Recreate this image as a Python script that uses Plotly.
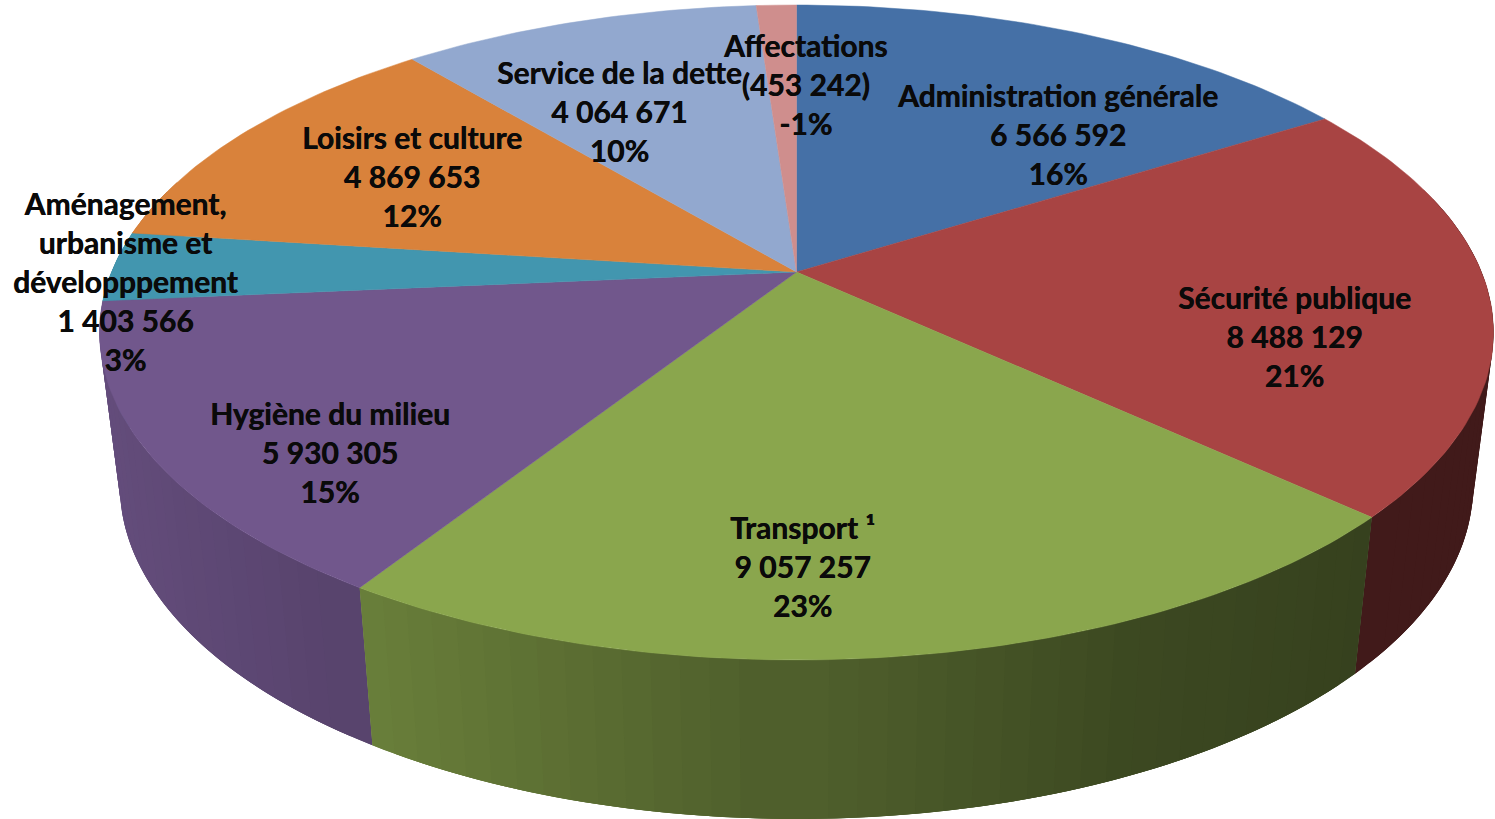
import numpy as np
import plotly.graph_objects as go

categories = ["Administration générale", "Sécurité publique", "Transport ¹",
              "Hygiène du milieu", "Aménagement,<br>urbanisme et<br>développpement",
              "Loisirs et culture", "Service de la dette", "Affectations"]
values = [6566592, 8488129, 9057257, 5930305, 1403566, 4869653, 4064671, -453242]
percents = ["16%", "21%", "23%", "15%", "3%", "12%", "10%", "-1%"]
colors = ["#4570A6", "#A84443", "#8AA64D", "#71578C", "#4296AF", "#D9823B", "#92A8CF", "#CF8E8D"]

label_x = [1057, 1294, 802, 330, 125, 412, 619, 805]
label_y = [134, 336, 566, 452, 281, 176, 111, 84]

# Projection of the tilted disc (picture pixels)
TOP = dict(cx=796.5, cy=272, a=685, b=316.3, k=0.1847)
BOT = dict(cx=796.5, cy=424, a=665, b=322, k=0.1847)
# wall shading as a function of horizontal position
SHADE_X = [100, 360, 800, 1100, 1370, 1500]
SHADE_F = [0.89, 0.78, 0.57, 0.44, 0.39, 0.39]


def project(theta, p):
    X, Y = np.sin(theta), -np.cos(theta)
    w = 1 - p["k"] * Y
    return p["cx"] + p["a"] * X / w, p["cy"] + p["b"] * Y / w


def rgb(h):
    return [int(h[i:i + 2], 16) for i in (1, 3, 5)]


mags = np.abs(values)
edges = np.concatenate([[0], np.cumsum(mags)]) / mags.sum() * 2 * np.pi

fig = go.Figure()
wall = []
for i in range(len(values)):
    lo, hi = edges[i], edges[i + 1]
    n = max(2, int(np.degrees(hi - lo) / 2))
    ts = np.linspace(lo, hi, n + 1)
    step = ts[1] - ts[0]
    for t0, t1 in zip(ts[:-1], ts[1:]):
        mid = (t0 + t1) / 2
        if -np.cos(mid) > -0.25:
            # overlap neighbours inside the same slice so no seams show
            wall.append((-np.cos(mid), max(lo, t0 - step), min(hi, t1 + step), mid, i))

for _, t0, t1, mid, i in sorted(wall, key=lambda q: q[0]):
    tt = np.linspace(t0, t1, 5)
    xa, ya = project(tt, TOP)
    xb, yb = project(tt[::-1], BOT)
    xs = np.concatenate([xa, xb, xa[:1]])
    ys = np.concatenate([ya, yb, ya[:1]])
    f = np.interp((project(mid, TOP)[0] + project(mid, BOT)[0]) / 2, SHADE_X, SHADE_F)
    c = "rgb(%d,%d,%d)" % tuple(int(v * f) for v in rgb(colors[i]))
    fig.add_trace(go.Scatter(x=xs, y=ys, mode="lines", fill="toself", fillcolor=c,
                             line=dict(width=0), hoverinfo="skip", showlegend=False))

for i in range(len(values)):
    ts = np.linspace(edges[i], edges[i + 1], max(3, int(np.degrees(edges[i + 1] - edges[i]))))
    xs, ys = project(ts, TOP)
    xs = np.concatenate([[TOP["cx"]], xs, [TOP["cx"]]])
    ys = np.concatenate([[TOP["cy"]], ys, [TOP["cy"]]])
    fig.add_trace(go.Scatter(x=xs, y=ys, mode="lines", fill="toself", fillcolor=colors[i],
                             line=dict(color=colors[i], width=0.5), name=categories[i],
                             hoverinfo="name", showlegend=False))

for i, cat in enumerate(categories):
    v = f"{abs(values[i]):,}".replace(",", " ")
    if values[i] < 0:
        v = f"({v})"
    fig.add_annotation(x=label_x[i], y=label_y[i], text=f"{cat}<br>{v}<br>{percents[i]}",
                       showarrow=False, xanchor="center", yanchor="middle", align="center",
                       font=dict(family="Lato", size=30, color="#0A0A0A", weight=700,
                                 shadow="0.4px 0 0 #0A0A0A"))

fig.update_layout(width=1495, height=819, margin=dict(l=0, r=0, t=0, b=0),
                  paper_bgcolor="white", plot_bgcolor="white",
                  xaxis=dict(range=[0, 1495], visible=False, fixedrange=True),
                  yaxis=dict(range=[819, 0], visible=False, fixedrange=True))
fig.write_html("out.html", config=dict(displayModeBar=False),
               post_script="document.body.style.margin='0';document.body.style.overflow='hidden';")
